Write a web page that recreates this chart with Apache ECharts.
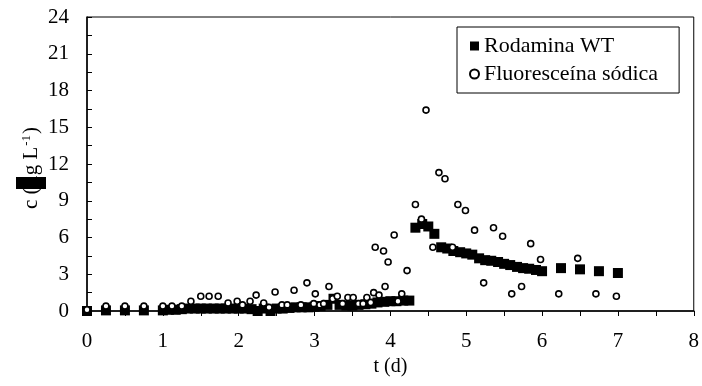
<!DOCTYPE html>
<html>
<head>
<meta charset="utf-8">
<script src="https://cdn.jsdelivr.net/npm/echarts@6/dist/echarts.min.js"></script>
<style>
  html, body { margin: 0; padding: 0; background: #fff; }
  #chart { width: 702px; height: 386px; }
</style>
</head>
<body>
<div id="chart"></div>
<script>
// Rodamina WT (square markers)
const rodTime = [0, 0.25, 0.5, 0.75,
  1.00, 1.08, 1.17, 1.25, 1.33, 1.42, 1.50, 1.58, 1.67, 1.75, 1.83, 1.92,
  2.00, 2.08, 2.17, 2.25, 2.33, 2.42, 2.50, 2.58, 2.67, 2.75, 2.83, 2.92,
  3.00, 3.08, 3.17, 3.25, 3.33, 3.42, 3.50, 3.58, 3.67, 3.75, 3.83, 3.92,
  4.00, 4.08, 4.17, 4.25,
  4.33, 4.42, 4.50, 4.58, 4.67, 4.75, 4.83, 4.92, 5.00, 5.08, 5.17, 5.25,
  5.33, 5.42, 5.50, 5.58, 5.67, 5.75, 5.83, 5.92, 6.00,
  6.25, 6.50, 6.75, 7.00];
const rodConc = [0, 0.05, 0.05, 0.05,
  0.05, 0.1, 0.1, 0.15, 0.2, 0.2, 0.2, 0.2, 0.2, 0.2, 0.2, 0.2,
  0.2, 0.2, 0.15, 0.0, 0.2, 0.0, 0.2, 0.2, 0.25, 0.3, 0.3, 0.3,
  0.35, 0.4, 0.5, 1.0, 0.5, 0.45, 0.45, 0.5, 0.55, 0.6, 0.7, 0.75,
  0.8, 0.8, 0.85, 0.85,
  6.8, 7.1, 6.9, 6.3, 5.2, 5.1, 4.9, 4.8, 4.7, 4.6, 4.3, 4.15,
  4.1, 4.0, 3.85, 3.75, 3.6, 3.5, 3.45, 3.35, 3.25,
  3.5, 3.4, 3.25, 3.1];

// Fluoresceína sódica (open circle markers)
const fluTime = [0, 0.25, 0.5, 0.75, 1.00, 1.12, 1.25, 1.37, 1.50, 1.61,
  1.73, 1.86, 1.98, 2.05, 2.15, 2.23, 2.33, 2.40, 2.48, 2.57,
  2.64, 2.73, 2.82, 2.90, 2.99, 3.01, 3.07, 3.12, 3.19, 3.24,
  3.30, 3.37, 3.44, 3.51, 3.58, 3.64, 3.69, 3.74, 3.78, 3.80,
  3.85, 3.91, 3.93, 3.97, 4.05, 4.10, 4.15, 4.22, 4.33, 4.41,
  4.47, 4.56, 4.64, 4.72, 4.82, 4.89, 4.99, 5.11, 5.23, 5.36,
  5.48, 5.60, 5.73, 5.85, 5.98, 6.22, 6.47, 6.71, 6.98];
const fluConc = [0.1, 0.4, 0.4, 0.4, 0.4, 0.4, 0.4, 0.8, 1.2, 1.2,
  1.2, 0.65, 0.8, 0.5, 0.8, 1.3, 0.65, 0.3, 1.55, 0.5,
  0.5, 1.7, 0.5, 2.3, 0.6, 1.4, 0.5, 0.6, 2.0, 1.0,
  1.2, 0.6, 1.1, 1.1, 0.6, 0.6, 1.1, 0.7, 1.5, 5.2,
  1.3, 4.9, 2.0, 4.0, 6.2, 0.8, 1.4, 3.3, 8.7, 7.5,
  16.4, 5.2, 11.3, 10.8, 5.2, 8.7, 8.2, 6.6, 2.3, 6.8,
  6.1, 1.4, 2.0, 5.5, 4.2, 1.4, 4.3, 1.4, 1.2];

const seriesNames = ['Rodamina WT', 'Fluoresceína sódica'];
const yTicks = { min: 0, max: 24, interval: 3 };
const xTicks = { min: 0, max: 8, interval: 1 };

const font = 'Liberation Serif';
const pairs = (xs, ys) => xs.map((x, i) => [x, ys[i]]);

const chart = echarts.init(document.getElementById('chart'));
chart.setOption({
  backgroundColor: '#fff',
  animation: false,
  textStyle: { fontFamily: font },
  grid: {
    left: 87, right: 5, top: 17, bottom: 75,
    show: true, borderColor: '#000', borderWidth: 1
  },
  legend: {
    orient: 'vertical',
    top: 27, left: 457,
    padding: [8, 21, 8, 12],
    itemGap: 6,
    itemWidth: 9, itemHeight: 9,
    backgroundColor: '#fff',
    borderColor: '#000', borderWidth: 1,
    textStyle: { fontFamily: font, fontSize: 22, color: '#000' },
    data: seriesNames
  },
  xAxis: {
    type: 'value',
    min: xTicks.min, max: xTicks.max, interval: xTicks.interval,
    name: 't (d)',
    nameLocation: 'middle',
    nameGap: 39,
    nameTextStyle: { fontFamily: font, fontSize: 20, color: '#000' },
    axisLine: { show: true, onZero: false, lineStyle: { color: '#000', width: 1.5 } },
    axisTick: { show: true, inside: false, length: 5, lineStyle: { color: '#000' } },
    minorTick: { show: true, splitNumber: 2, length: 5, lineStyle: { color: '#000' } },
    axisLabel: { fontFamily: font, fontSize: 21, color: '#000', margin: 20 },
    splitLine: { show: false }
  },
  yAxis: {
    type: 'value',
    min: yTicks.min, max: yTicks.max, interval: yTicks.interval,
    axisLine: { show: true, lineStyle: { color: '#000', width: 1.5 } },
    axisTick: { show: true, inside: true, length: 5, lineStyle: { color: '#000' } },
    minorTick: { show: true, splitNumber: 2, length: 5, lineStyle: { color: '#000' } },
    axisLabel: { fontFamily: font, fontSize: 21, color: '#000', margin: 18 },
    splitLine: { show: false }
  },
  graphic: [
    {
      type: 'text',
      x: 31, y: 168,
      rotation: Math.PI / 2,
      style: {
        text: '{b|c (µg L}{s|-1}{b|)}',
        align: 'center',
        verticalAlign: 'middle',
        rich: {
          b: { fontFamily: font, fontSize: 21, fill: '#000', color: '#000' },
          s: { fontFamily: font, fontSize: 13, fill: '#000', color: '#000', verticalAlign: 'top', padding: [0, 1, 8, 1] }
        }
      }
    },
    {
      type: 'rect',
      shape: { x: 16, y: 177, width: 30, height: 12 },
      style: { fill: '#000' },
      z: 100
    }
  ],
  series: [
    {
      name: seriesNames[0],
      type: 'scatter',
      symbol: 'rect',
      symbolSize: 10,
      itemStyle: { color: '#000', opacity: 1 },
      data: pairs(rodTime, rodConc)
    },
    {
      name: seriesNames[1],
      type: 'scatter',
      symbol: 'circle',
      symbolSize: 6,
      itemStyle: { color: '#fff', borderColor: '#000', borderWidth: 1.6, opacity: 1 },
      data: pairs(fluTime, fluConc)
    }
  ]
});
</script>
</body>
</html>
